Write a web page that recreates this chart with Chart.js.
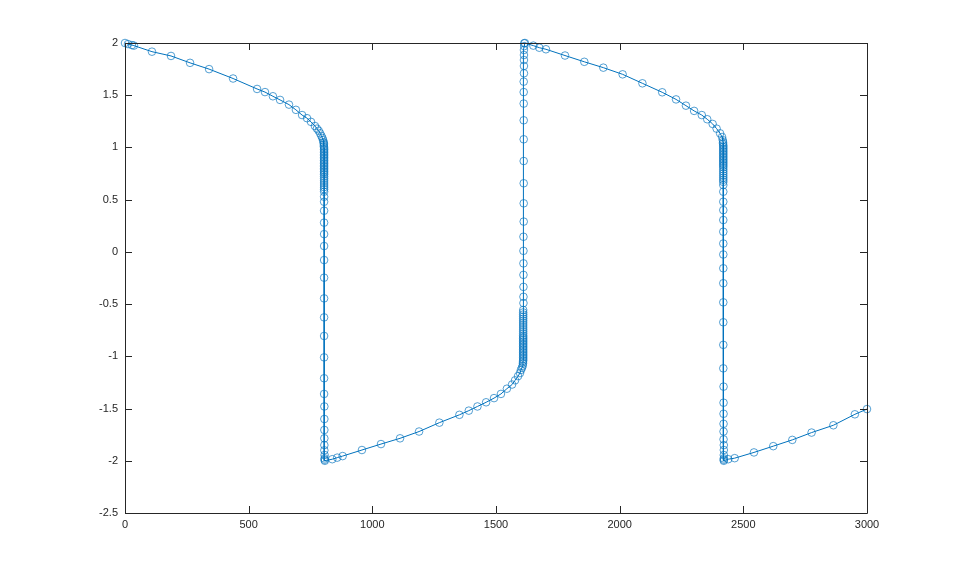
<!DOCTYPE html>
<html>
<head>
<meta charset="utf-8">
<script src="https://cdn.jsdelivr.net/npm/chart.js@4"></script>
<style>
 body { margin: 0; background: #fff; }
 #wrap { width: 959px; height: 577px; }
</style>
</head>
<body>
<div id="wrap"><canvas id="vdpChart" width="959" height="577"></canvas></div>
<script>
// solution samples (t, y)
const tValues = [
 // slow descent from 2
 0, 12, 28, 36, 109, 186, 263, 340, 437, 534, 566, 598, 627, 663, 691, 716, 736, 752, 768, 776, 783, 789, 794, 798, 801, 803,
 // fast drop (dense top)
 804, 804, 804,
 805, 805, 805, 805, 805, 805, 805, 805, 805, 805, 805, 805, 805, 805, 805,
 805, 805, 805, 805, 805, 805, 805, 805, 805, 805,
 // fast drop (sparse)
 805, 805, 805, 805, 805, 805, 805, 805, 805, 805, 805, 805, 805, 805, 805,
 806, 806, 806, 806, 806, 806, 807, 807, 807, 808,
 // slow rise from -2
 838, 858, 880, 958, 1035, 1112, 1189, 1271, 1352, 1390, 1425, 1460, 1492, 1520, 1544, 1565, 1577, 1589, 1597, 1601, 1605, 1608,
 // fast rise (dense bottom)
 1609, 1609,
 1610, 1610, 1610, 1610, 1610, 1610, 1610, 1610, 1610, 1610, 1610, 1610, 1610, 1610, 1610,
 1610, 1610, 1610, 1610, 1610, 1610, 1610, 1610, 1610, 1610, 1610, 1610, 1610, 1610,
 // fast rise (sparse)
 1611, 1611, 1611, 1611, 1611, 1611, 1611, 1612, 1612, 1612, 1612, 1612, 1612, 1612, 1612, 1612,
 1613, 1613, 1613, 1613, 1613, 1614, 1614,
 // slow descent
 1617, 1651, 1675, 1702, 1779, 1857, 1934, 2012, 2092, 2172, 2228, 2268, 2301, 2332, 2354, 2376, 2392, 2406, 2414, 2417,
 // fast drop (dense top)
 2418, 2418,
 2419, 2419, 2419, 2419, 2419, 2419, 2419, 2419, 2419, 2419, 2419, 2419, 2419, 2419, 2419,
 2419, 2419, 2419, 2419, 2419, 2419, 2419,
 // fast drop (sparse)
 2419, 2419, 2419, 2419, 2419, 2419, 2419, 2419, 2419, 2419, 2419, 2419, 2419, 2419,
 2420, 2420, 2420, 2420, 2420, 2420, 2421, 2421, 2421, 2421, 2421, 2421,
 // slow rise
 2439, 2465, 2543, 2621, 2698, 2776, 2864, 2951, 3000
];

const yValues = [
 2.0, 1.99, 1.98, 1.975, 1.917, 1.876, 1.81, 1.75, 1.66, 1.56, 1.53, 1.49, 1.455, 1.41, 1.36, 1.31, 1.28, 1.245, 1.205, 1.18, 1.16, 1.135, 1.11, 1.09, 1.07, 1.05,
 1.04, 1.025, 1.01, 0.995, 0.98, 0.965, 0.95, 0.935, 0.92, 0.905, 0.89, 0.875, 0.86, 0.845, 0.83,
 0.815, 0.80, 0.785, 0.77, 0.755, 0.74, 0.72, 0.70, 0.68, 0.66, 0.64, 0.62, 0.60,
 0.576, 0.528, 0.48, 0.394, 0.28, 0.17, 0.056, -0.078, -0.247, -0.445, -0.627, -0.805, -1.01, -1.21, -1.36,
 -1.48, -1.6, -1.705, -1.785, -1.85, -1.9, -1.945, -1.977, -1.99, -2.0,
 -1.985, -1.97, -1.955, -1.897, -1.84, -1.785, -1.72, -1.635, -1.56, -1.52, -1.48, -1.44, -1.40, -1.36, -1.31, -1.27, -1.23, -1.19, -1.16, -1.13, -1.11, -1.09,
 -1.07, -1.055, -1.04, -1.025, -1.01, -0.995, -0.98, -0.965, -0.95, -0.935, -0.92, -0.905, -0.89, -0.875, -0.86,
 -0.845, -0.83, -0.815, -0.80, -0.78, -0.76, -0.74, -0.72, -0.70, -0.68, -0.66, -0.64, -0.62, -0.60, -0.58, -0.556,
 -0.49, -0.43, -0.335, -0.22, -0.11, 0.01, 0.145, 0.29, 0.465, 0.657, 0.87, 1.078, 1.26, 1.42, 1.53, 1.63,
 1.71, 1.78, 1.837, 1.885, 1.933, 1.97, 1.997,
 2.0, 1.975, 1.955, 1.94, 1.88, 1.82, 1.764, 1.70, 1.614, 1.528, 1.46, 1.40, 1.35, 1.31, 1.27, 1.225, 1.18, 1.135, 1.10, 1.07,
 1.05, 1.035, 1.02, 1.005, 0.99, 0.975, 0.96, 0.945, 0.93, 0.915, 0.90, 0.885, 0.87, 0.855, 0.84,
 0.825, 0.81, 0.79, 0.77, 0.75, 0.73, 0.71, 0.69, 0.67,
 0.64, 0.576, 0.48, 0.40, 0.305, 0.193, 0.08, -0.025, -0.157, -0.30, -0.483, -0.674, -0.89, -1.115,
 -1.29, -1.444, -1.55, -1.646, -1.72, -1.795, -1.85, -1.897, -1.945, -1.977, -1.99, -2.0,
 -1.985, -1.975, -1.92, -1.86, -1.80, -1.73, -1.66, -1.555, -1.505
];

const xTicks = [0, 500, 1000, 1500, 2000, 2500, 3000];
const yTicks = [-2.5, -2, -1.5, -1, -0.5, 0, 0.5, 1, 1.5, 2];

const axisColor = '#262626';
const lineColor = 'rgb(0, 114, 189)';

// MATLAB style box with inward ticks on all four sides
const boxPlugin = {
 id: 'matlabBox',
 afterDraw(chart) {
  const ctx = chart.ctx;
  const a = chart.chartArea;
  const xs = chart.scales.x;
  const ys = chart.scales.y;
  const len = 7;
  ctx.save();
  ctx.strokeStyle = axisColor;
  ctx.lineWidth = 1;
  ctx.beginPath();
  ctx.rect(Math.round(a.left) + 0.5, Math.round(a.top) + 0.5, Math.round(a.right - a.left), Math.round(a.bottom - a.top));
  xTicks.forEach(v => {
   const px = Math.round(xs.getPixelForValue(v)) + 0.5;
   ctx.moveTo(px, a.bottom); ctx.lineTo(px, a.bottom - len);
   ctx.moveTo(px, a.top); ctx.lineTo(px, a.top + len);
  });
  yTicks.forEach(v => {
   const py = Math.round(ys.getPixelForValue(v)) + 0.5;
   ctx.moveTo(a.left, py); ctx.lineTo(a.left + len, py);
   ctx.moveTo(a.right, py); ctx.lineTo(a.right - len, py);
  });
  ctx.stroke();
  ctx.restore();
 }
};

const ctx = document.getElementById('vdpChart').getContext('2d');

new Chart(ctx, {
 type: 'scatter',
 data: {
  datasets: [{
   data: tValues.map((t, i) => ({ x: t, y: yValues[i] })),
   showLine: true,
   borderColor: lineColor,
   borderWidth: 1,
   pointRadius: 3.8,
   pointBorderWidth: 0.9,
   pointBorderColor: 'rgba(0, 114, 189, 0.75)',
   pointBackgroundColor: 'rgba(0, 0, 0, 0)',
   pointHoverRadius: 3.8,
   clip: false
  }]
 },
 options: {
  responsive: false,
  animation: false,
  events: [],
  layout: { padding: { top: 43, right: 92, bottom: 0, left: 0 } },
  plugins: { legend: { display: false }, tooltip: { enabled: false } },
  scales: {
   x: {
    type: 'linear',
    min: 0,
    max: 3000,
    afterBuildTicks: s => { s.ticks = xTicks.map(v => ({ value: v })); },
    afterFit: s => { s.height = 64; },
    grid: { display: false, drawTicks: false },
    border: { display: false },
    ticks: {
     padding: 5,
     color: axisColor,
     font: { family: 'Liberation Sans, Arial, sans-serif', size: 11 },
     maxRotation: 0,
     callback: v => String(v)
    }
   },
   y: {
    type: 'linear',
    min: -2.5,
    max: 2,
    afterBuildTicks: s => { s.ticks = yTicks.map(v => ({ value: v })); },
    afterFit: s => { s.width = 125; },
    grid: { display: false, drawTicks: false },
    border: { display: false },
    ticks: {
     padding: 7,
     color: axisColor,
     font: { family: 'Liberation Sans, Arial, sans-serif', size: 11 },
     callback: v => String(v)
    }
   }
  }
 },
 plugins: [boxPlugin]
});
</script>
</body>
</html>
